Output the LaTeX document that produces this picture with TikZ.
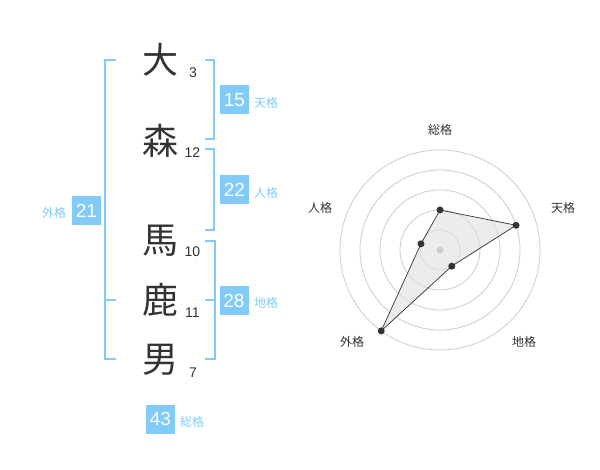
\documentclass[tikz,border=0pt]{standalone}
\usepackage{fontspec}
\setmainfont{Liberation Sans}
\newfontfamily\cjk{Noto Sans CJK JP}
\definecolor{kblue}{HTML}{82CAF8}
\definecolor{kdark}{HTML}{333333}
\definecolor{kgrid}{HTML}{CCCCCC}
\begin{document}
\begin{tikzpicture}[x=1pt,y=-1pt,
  kanji/.style={font=\cjk\fontsize{36}{36}\selectfont,text=kdark,inner sep=0pt,anchor=center},
  strokes/.style={font=\fontsize{14}{14}\selectfont,text=kdark,inner sep=0pt,anchor=center},
  kbox/.style={fill=kblue,text=white,minimum width=29pt,minimum height=29pt,inner sep=0pt,font=\fontsize{19}{19}\selectfont},
  klabel/.style={text=kblue,font=\cjk\fontsize{12}{12}\selectfont,inner sep=0pt},
  bracket/.style={draw=kblue,line width=2pt},
  rlabel/.style={text=kdark,font=\cjk\fontsize{12}{12}\selectfont,inner sep=0pt},
  ring/.style={draw=kgrid,line width=0.8pt},
  dot/.style={circle,fill=kdark,inner sep=0pt,minimum size=7pt}
]
\useasboundingbox (0,0) rectangle (600,470);
% name characters
\node[kanji] (c1) at (160,60) {大};
\node[kanji] (c2) at (160,141) {森};
\node[kanji] (c3) at (160,241) {馬};
\node[kanji] (c4) at (160,300) {鹿};
\node[kanji] (c5) at (160,360) {男};
\node[strokes] (s1) at (193,72.5) {3};
\node[strokes] (s2) at (192.5,153) {12};
\node[strokes] (s3) at (192.5,252) {10};
\node[strokes] (s4) at (192.5,313) {11};
\node[strokes] (s5) at (193,372.5) {7};
% brackets
\draw[bracket] (116,60) -- (105,60) -- (105,359) -- (116,359);
\draw[bracket] (105,300) -- (116,300);
\draw[bracket] (205,60) -- (214,60) -- (214,139) -- (205,139);
\draw[bracket] (205,149) -- (214,149) -- (214,230) -- (205,230);
\draw[bracket] (205,241) -- (215,241) -- (215,359) -- (205,359);
\draw[bracket] (205,300) -- (215,300);
% boxes
\node[kbox] (ten) at (234.5,100) {15};
\node[klabel] (tenl) at (266,103) {天格};
\node[kbox] (jin) at (234.5,190) {22};
\node[klabel] (jinl) at (266,193) {人格};
\node[kbox] (chi) at (234,300.5) {28};
\node[klabel] (chil) at (266,303) {地格};
\node[kbox] (gai) at (86.5,210.5) {21};
\node[klabel] (gail) at (54,213) {外格};
\node[kbox] (sou) at (160.5,419) {43};
\node[klabel] (soul) at (192,422) {総格};
% radar
\coordinate (rc) at (440,250);
\foreach \r in {20,40,60,80,100} \draw[ring] (rc) circle[radius=\r];
\coordinate (p1) at (440,210);
\coordinate (p2) at (516.08,225.28);
\coordinate (p3) at (451.76,266.18);
\coordinate (p4) at (381.22,330.90);
\coordinate (p5) at (420.98,243.82);
\fill[black!12,opacity=0.6] (p1) -- (p2) -- (p3) -- (p4) -- (p5) -- cycle;
\node[circle,fill=kgrid,inner sep=0pt,minimum size=7pt] (cen) at (rc) {};
\draw[kdark,line width=0.7pt] (p1) -- (p2) -- (p3) -- (p4) -- (p5) -- cycle;
\foreach \p in {p1,p2,p3,p4,p5} \node[dot] at (\p) {};
\node[rlabel] (r1) at (440,130) {総格};
\node[rlabel] (r2) at (563,208) {天格};
\node[rlabel] (r3) at (524,342) {地格};
\node[rlabel] (r4) at (352,342) {外格};
\node[rlabel] (r5) at (320,208) {人格};
\end{tikzpicture}
\end{document}
